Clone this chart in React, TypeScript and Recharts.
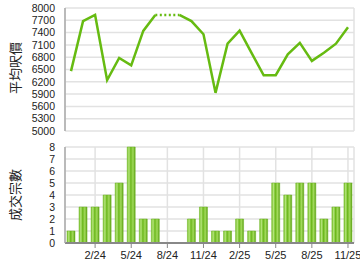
import React from "react";
import {
  LineChart,
  Line,
  BarChart,
  Bar,
  XAxis,
  YAxis,
  CartesianGrid,
} from "recharts";

const months = [
  "12/23", "1/24", "2/24", "3/24", "4/24", "5/24", "6/24", "7/24", "8/24", "9/24", "10/24", "11/24",
  "12/24", "1/25", "2/25", "3/25", "4/25", "5/25", "6/25", "7/25", "8/25", "9/25", "10/25", "11/25",
];
// average price per sq ft; null where no deals (shown as dotted carry-over)
const avgPrice = [
  6460, 7680, 7830, 6240, 6780, 6600, 7440, 7830, null, 7830, 7680, 7360,
  5930, 7130, 7450, 6900, 6360, 6360, 6870, 7150, 6710, 6910, 7130, 7530,
];
const carryPrice = [
  null, null, null, null, null, null, null, 7830, 7830, 7830, null, null,
  null, null, null, null, null, null, null, null, null, null, null, null,
];
const deals = [1, 3, 3, 4, 5, 8, 2, 2, 0, 0, 2, 3, 1, 1, 2, 1, 2, 5, 4, 5, 5, 2, 3, 5];

const xTicks = ["2/24", "5/24", "8/24", "11/24", "2/25", "5/25", "8/25", "11/25"];
const priceTicks = [5000, 5300, 5600, 5900, 6200, 6500, 6800, 7100, 7400, 7700, 8000];
const dealTicks = [0, 1, 2, 3, 4, 5, 6, 7, 8];

const rows = months.map((m, i) => ({
  month: m,
  price: avgPrice[i],
  carry: carryPrice[i],
  deals: deals[i],
}));

const FONT = "'Liberation Sans', Arial, sans-serif";
const GREEN = "#66bb11";
const yTickStyle = { fontSize: 10.5, fill: "#222", fontFamily: FONT };
const xTickStyle = { fontSize: 11, fill: "#222", fontFamily: FONT };

const sideLabel = (top: number): React.CSSProperties => ({
  position: "absolute",
  left: 14,
  top,
  transform: "translate(-50%, -50%) rotate(-90deg)",
  fontFamily: "'Noto Sans CJK TC', sans-serif",
  fontSize: 13,
  color: "#222",
  whiteSpace: "nowrap",
});

export default function App() {
  return (
    <div style={{ position: "absolute", left: 0, top: 0, width: 360, height: 270, background: "#fff" }}>
      <div style={{ position: "absolute", left: 0, top: 135 }}>
        <BarChart width={360} height={135} data={rows} margin={{ top: 12, right: 6, bottom: 0, left: 0 }} barSize={8}>
          <defs>
            <linearGradient id="barGrad" x1="0" y1="0" x2="1" y2="0">
              <stop offset="0%" stopColor="#78c22a" />
              <stop offset="22%" stopColor="#b4e47a" />
              <stop offset="45%" stopColor="#6cb81c" />
              <stop offset="72%" stopColor="#a2da5c" />
              <stop offset="100%" stopColor="#5aa012" />
            </linearGradient>
          </defs>
          <CartesianGrid stroke="#e2e2e2" strokeWidth={1.5} />
          <XAxis
            dataKey="month"
            ticks={xTicks}
            height={27}
            tickSize={5}
            tickMargin={3}
            tickLine={{ stroke: "#888" }}
            axisLine={{ stroke: "#888", strokeWidth: 2 }}
            tick={xTickStyle}
            interval={0}
          />
          <YAxis
            domain={[0, 8]}
            ticks={dealTicks}
            width={65}
            tickLine={false}
            tickMargin={4}
            axisLine={{ stroke: "#aaa", strokeWidth: 1.5 }}
            tick={yTickStyle}
            interval={0}
          />
          <Bar dataKey="deals" fill="url(#barGrad)" stroke="#6ab21e" strokeWidth={0.5} isAnimationActive={false} />
        </BarChart>
      </div>
      <div style={{ position: "absolute", left: 0, top: 0 }}>
        <LineChart width={360} height={140} data={rows} margin={{ top: 8, right: 6, bottom: 9, left: 0 }}>
          <CartesianGrid stroke="#e2e2e2" strokeWidth={1.5} />
          <XAxis
            dataKey="month"
            ticks={xTicks}
            tick={false}
            tickLine={false}
            height={0}
            padding={{ left: 6, right: 6 }}
            axisLine={{ stroke: "#888", strokeWidth: 2 }}
          />
          <YAxis
            domain={[5000, 8000]}
            ticks={priceTicks}
            width={65}
            tickLine={false}
            tickMargin={4}
            axisLine={{ stroke: "#aaa", strokeWidth: 1.5 }}
            tick={yTickStyle}
            interval={0}
          />
          <Line
            dataKey="carry"
            stroke={GREEN}
            strokeWidth={2.5}
            strokeDasharray="2 2.5"
            dot={false}
            isAnimationActive={false}
          />
          <Line
            dataKey="price"
            type="linear"
            stroke={GREEN}
            strokeWidth={2.5}
            dot={false}
            isAnimationActive={false}
          />
        </LineChart>
      </div>
      <div style={sideLabel(68)}>平均呎價</div>
      <div style={sideLabel(195)}>成交宗數</div>
    </div>
  );
}
